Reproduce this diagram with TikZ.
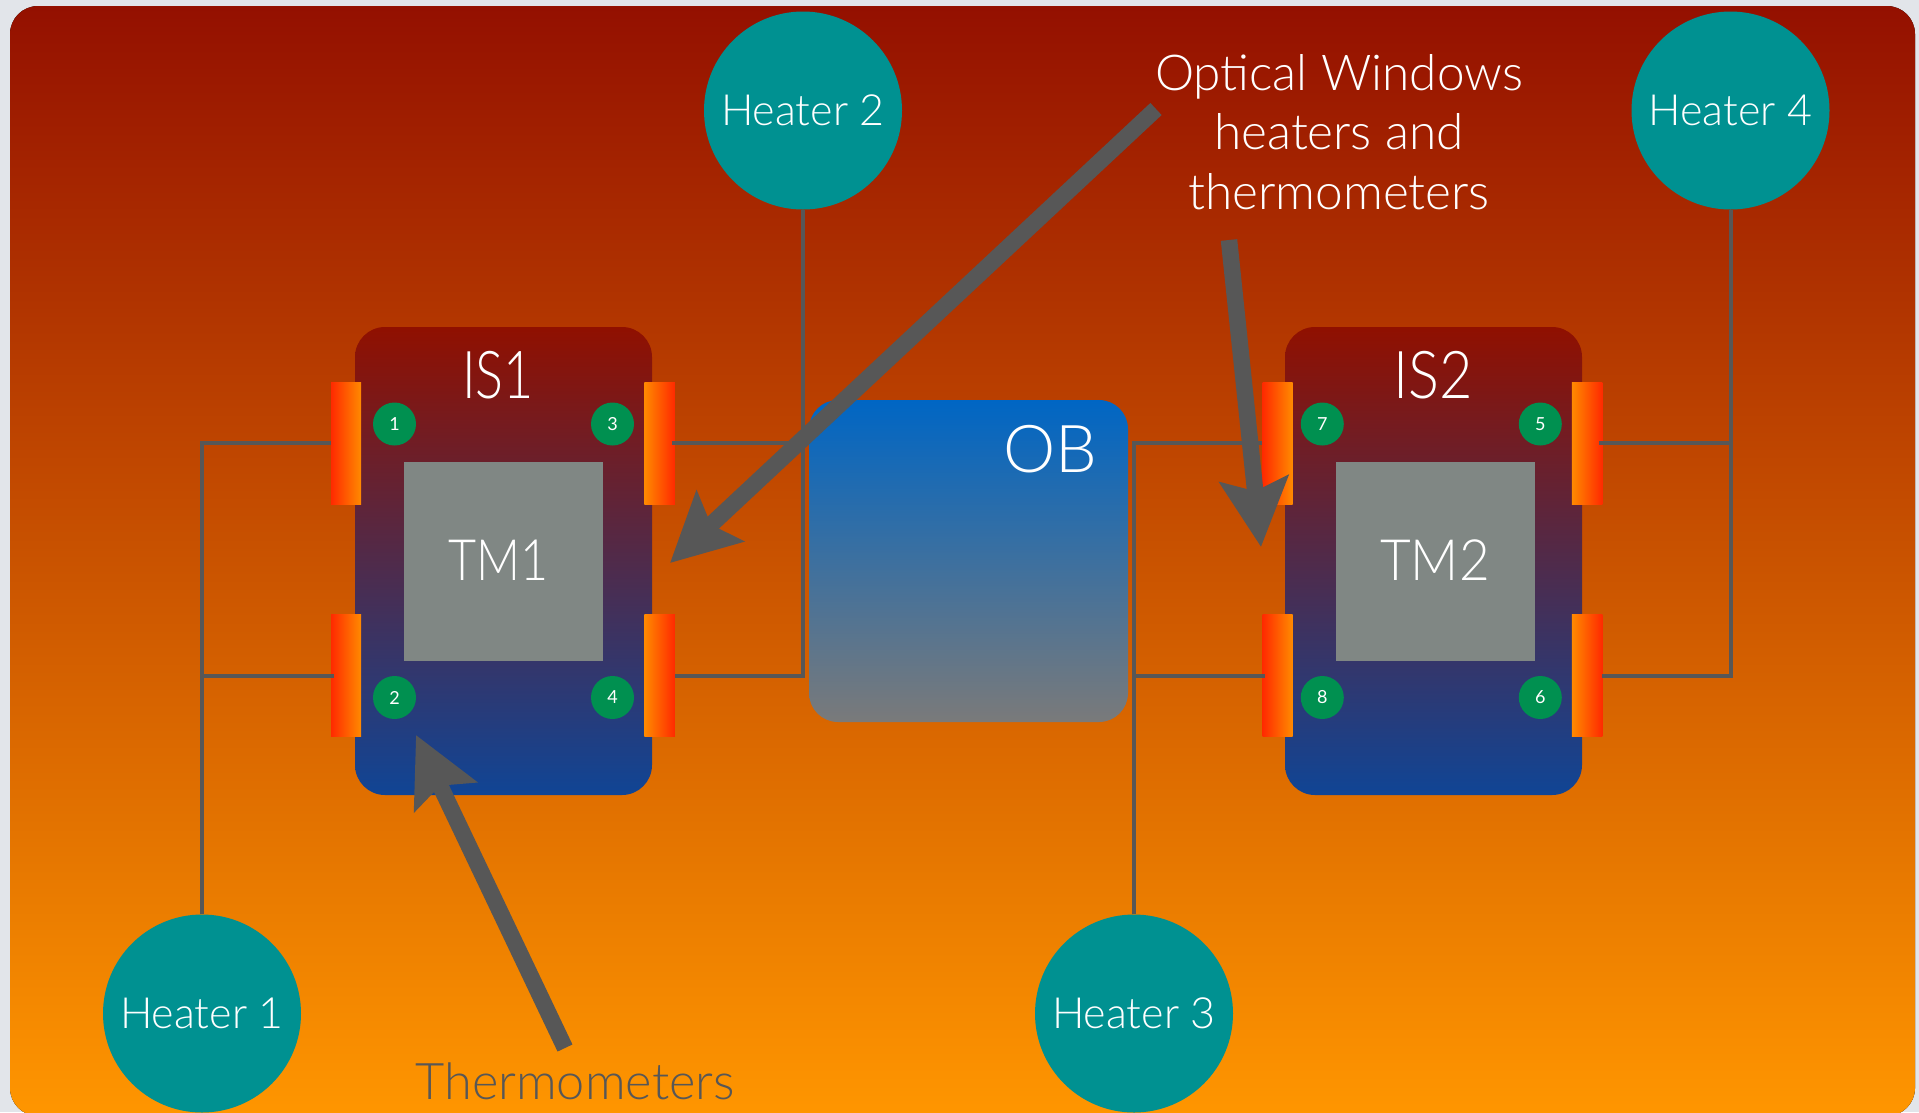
\documentclass[tikz,border=0pt]{standalone}
\usepackage{fontspec}
\usepackage{graphicx}
\setmainfont{Lato Light}
\newfontfamily\numfont{Lato}
\usetikzlibrary{arrows.meta,calc}
\definecolor{pagebg}{HTML}{E2E5EA}
\definecolor{wire}{HTML}{575757}
\definecolor{teal1}{HTML}{009191}
\definecolor{green1}{HTML}{009050}
\definecolor{tmgrey}{HTML}{808784}
\definecolor{isTop}{HTML}{901000}
\definecolor{isMid}{HTML}{5E2254}
\definecolor{isBot}{HTML}{104595}
\definecolor{bgTop}{HTML}{941000}
\definecolor{bgBot}{HTML}{FF9600}
\definecolor{hotA}{HTML}{FF2A00}
\definecolor{hotB}{HTML}{FF8A00}
\definecolor{obTop}{HTML}{0066C4}
\definecolor{obBot}{HTML}{7A7A7A}
\tikzset{
 x=1pt,y=-1pt,
 heater/.style={circle,fill=teal1,minimum size=198pt,inner sep=0pt,text=white,font=\fontsize{43}{50}\selectfont},
 isbox/.style={rectangle,rounded corners=30pt,minimum width=297pt,minimum height=468pt,top color=isTop,middle color=isMid,bottom color=isBot,inner sep=0pt},
 tmbox/.style={rectangle,fill=tmgrey,minimum size=199pt,inner sep=0pt},
 padL/.style={rectangle,minimum width=30pt,minimum height=122pt,inner sep=0pt,left color=hotA,right color=hotB},
 padR/.style={rectangle,minimum width=30.5pt,minimum height=122pt,inner sep=0pt,left color=hotB,right color=hotA},
 sensor/.style={circle,fill=green1,minimum size=43pt,inner sep=0pt,text=white,font=\numfont\fontsize{18}{20}\selectfont},
 wireline/.style={draw=wire,line width=4pt},
 wirein/.style={wireline,shorten >=-3pt},
 pointer/.style={draw=wire,line width=16.5pt,-{Stealth[length=68pt,width=68pt,inset=12pt]}},
 tmlabel/.style={text=white,font=\fontsize{57}{60}\selectfont,inner sep=0pt},
 biglabel/.style={text=white,font=\fontsize{66}{70}\selectfont,inner sep=0pt},
 note/.style={font=\fontsize{49.5}{59.5}\selectfont,inner sep=0pt,align=center},
 note2/.style={font=\fontsize{50.5}{59.5}\selectfont,inner sep=0pt},
}
\begin{document}
\begin{tikzpicture}
\useasboundingbox (0,0) rectangle (1919,1112);
\fill[pagebg] (0,0) rectangle (1919,1112);
\begin{scope}
\clip (0,0) rectangle (1919,1112);
\fill[top color=bgTop,bottom color=bgBot,rounded corners=28pt] (10,6) rectangle (1915,1116);
\end{scope}
% boxes
\node[isbox] (is1) at (503.5,561) {};
\node[isbox] (is2) at (1433.5,561) {};
\node[tmbox] (tm1) at (503.5,561) {};
\node[tmbox] (tm2) at (1435.5,561) {};
\node[tmlabel] (tm1t) at (498.5,560) {\scalebox{.85}[1]{TM1}};
\node[tmlabel] (tm2t) at (1435,560) {\scalebox{.93}[1]{TM2}};
\node[biglabel] (is1t) at (498,375) {\scalebox{.79}[1]{IS1}};
\node[biglabel] (is2t) at (1433,375) {\scalebox{.875}[1]{IS2}};
% heater pads
\node[padL] (p1a) at (346,443) {};
\node[padL] (p1b) at (346,675.5) {};
\node[padR] (p1c) at (659.5,443) {};
\node[padR] (p1d) at (659.5,675.5) {};
\node[padL] (p2a) at (1277.5,443) {};
\node[padL] (p2b) at (1277.5,675.5) {};
\node[padR] (p2c) at (1587,443) {};
\node[padR] (p2d) at (1587,675.5) {};
% sensors
\node[sensor] (s1) at (394.5,424) {1};
\node[sensor] (s2) at (394.5,697.5) {2};
\node[sensor] (s3) at (612.5,424) {3};
\node[sensor] (s4) at (612.5,697.5) {4};
\node[sensor] (s5) at (1540.3,424) {5};
\node[sensor] (s6) at (1540.3,697.5) {6};
\node[sensor] (s7) at (1322.3,424) {7};
\node[sensor] (s8) at (1322.3,697.5) {8};
% heaters
\node[heater] (h1) at (202,1013.5) {Heater 1};
\node[heater] (h2) at (803,110.5) {Heater 2};
\node[heater] (h3) at (1134,1013.5) {Heater 3};
\node[heater] (h4) at (1730.5,110.5) {Heater 4};
% wires
\draw[wireline] (h1.north) |- (p1a.west);
\draw[wirein] (h1.north) |- (p1b.west);
\draw[wirein] (h2.south) |- (p1c.east);
\draw[wireline] (h2.south) |- (p1d.east);
\draw[wireline] (h3.north) |- (p2a.west);
\draw[wirein] (h3.north) |- (p2b.west);
\draw[wirein] (h4.south) |- (p2c.east);
\draw[wireline] (h4.south) |- (p2d.east);
% OB
\node[rectangle,rounded corners=29pt,minimum width=319pt,minimum height=322pt,inner sep=0pt,top color=obTop,bottom color=obBot] (ob) at (968.5,561) {};
\node[biglabel] (obt) at (1050,449) {OB};
% notes
\node[note,text=white] (win) at (1339,132) {Optical Windows\\heaters and\\thermometers};
\node[note2,text=wire] (therm) at (575,1081) {Thermometers};
\coordinate (a1s) at (1156,109);
\coordinate (a1e) at (670,563);
\coordinate (a2s) at (1229,240);
\coordinate (a2e) at (1261,547);
\coordinate (a3s) at (565,1048);
\coordinate (a3e) at (416,735);
\draw[pointer] (a1s) -- (a1e);
\draw[pointer] (a2s) -- (a2e);
\draw[pointer] (a3s) -- (a3e);
\end{tikzpicture}
\end{document}
